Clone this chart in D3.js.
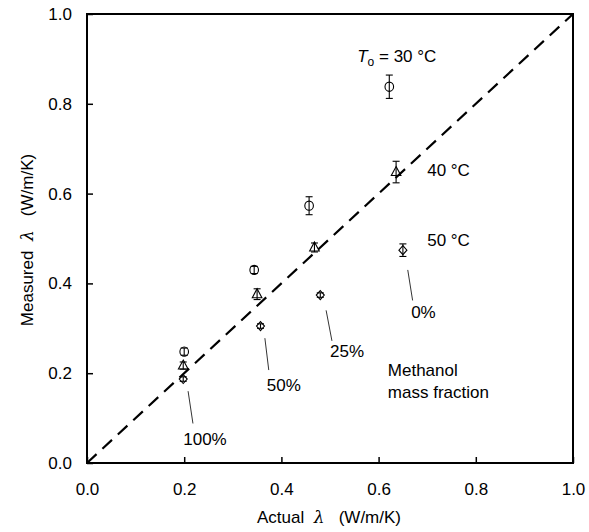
<!DOCTYPE html>
<html><head><meta charset="utf-8">
<script src="https://cdn.jsdelivr.net/npm/d3@7"></script>
<style>body{margin:0;background:#fff;} text{font-family:"Liberation Sans",Arial,sans-serif;}</style>
</head><body><svg id="c" width="589" height="532"></svg>
<script>
// Data
const circles30 = [
  {x:0.200, y:0.248, e:0.008},
  {x:0.344, y:0.430, e:0.008},
  {x:0.457, y:0.573, e:0.020},
  {x:0.622, y:0.838, e:0.026}
];
const triangles40 = [
  {x:0.198, y:0.217, e:0.008},
  {x:0.350, y:0.376, e:0.012},
  {x:0.468, y:0.480, e:0.010},
  {x:0.636, y:0.648, e:0.024}
];
const diamonds50 = [
  {x:0.198, y:0.187, e:0.005},
  {x:0.357, y:0.305, e:0.005},
  {x:0.480, y:0.374, e:0.005},
  {x:0.650, y:0.474, e:0.014}
];
const tickValues = [0, 0.2, 0.4, 0.6, 0.8, 1.0];
const fractionLabels = [
  {t:"0%",   x:0.667, y:0.323, lx1:0.660, ly1:0.430, lx2:0.670, ly2:0.362},
  {t:"25%",  x:0.500, y:0.236, lx1:0.492, ly1:0.340, lx2:0.504, ly2:0.272},
  {t:"50%",  x:0.370, y:0.160, lx1:0.366, ly1:0.278, lx2:0.374, ly2:0.207},
  {t:"100%", x:0.198, y:0.040, lx1:0.208, ly1:0.160, lx2:0.218, ly2:0.088}
];
const tempLabels = [
  {t:"40 °C", x:0.700, y:0.639},
  {t:"50 °C", x:0.700, y:0.483}
];

const svg = d3.select("#c");
const L=87, R=573, T=14, B=463;
const FS=17;
const x = d3.scaleLinear().domain([0,1]).range([L,R]);
const y = d3.scaleLinear().domain([0,1]).range([B,T]);

// axes
const fmt = d3.format(".1f");
const gx = svg.append("g").attr("transform",`translate(0,${B})`)
  .call(d3.axisBottom(x).tickValues(tickValues).tickFormat(fmt).tickSizeInner(-6).tickSizeOuter(0).tickPadding(20));
const gy = svg.append("g").attr("transform",`translate(${L},0)`)
  .call(d3.axisLeft(y).tickValues(tickValues).tickFormat(fmt).tickSizeInner(-6).tickSizeOuter(0).tickPadding(15));
[gx,gy].forEach(g=>{
  g.selectAll("text").attr("font-size",FS).attr("fill","#000").style("font-family","'Liberation Sans',Arial,sans-serif");
  g.selectAll("line").attr("stroke","#000").attr("stroke-width",1.5);
  g.select(".domain").remove();
});
svg.append("rect").attr("x",L).attr("y",T).attr("width",R-L).attr("height",B-T)
  .attr("fill","none").attr("stroke","#000").attr("stroke-width",2);

// diagonal
svg.append("line").attr("x1",x(0)).attr("y1",y(0)).attr("x2",x(1)).attr("y2",y(1))
  .attr("stroke","#000").attr("stroke-width",2.2).attr("stroke-dasharray","13,8");

// error bars + markers
function errbars(data){
  const g = svg.append("g").attr("stroke","#000").attr("stroke-width",1.1);
  data.forEach(d=>{
    g.append("line").attr("x1",x(d.x)).attr("x2",x(d.x)).attr("y1",y(d.y-d.e)).attr("y2",y(d.y+d.e));
    [d.y-d.e,d.y+d.e].forEach(v=>g.append("line").attr("x1",x(d.x)-3.5).attr("x2",x(d.x)+3.5).attr("y1",y(v)).attr("y2",y(v)));
  });
}
errbars(circles30); errbars(triangles40); errbars(diamonds50);

svg.append("g").selectAll("ellipse").data(circles30).join("ellipse")
  .attr("cx",d=>x(d.x)).attr("cy",d=>y(d.y)).attr("rx",4.3).attr("ry",4.6)
  .attr("fill","none").attr("stroke","#000").attr("stroke-width",1.1);
svg.append("g").selectAll("path").data(triangles40).join("path")
  .attr("d",d=>{const cx=x(d.x),cy=y(d.y);return `M${cx},${cy-5.5}L${cx+4.8},${cy+3.5}L${cx-4.8},${cy+3.5}Z`;})
  .attr("fill","none").attr("stroke","#000").attr("stroke-width",1.1);
svg.append("g").selectAll("path").data(diamonds50).join("path")
  .attr("d",d=>{const cx=x(d.x),cy=y(d.y);return `M${cx},${cy-4.5}L${cx+4},${cy}L${cx},${cy+4.5}L${cx-4},${cy}Z`;})
  .attr("fill","none").attr("stroke","#000").attr("stroke-width",1.1);

// labels
const t0 = svg.append("text").attr("x",x(0.556)).attr("y",y(0.893)).attr("font-size",FS);
t0.append("tspan").attr("font-style","italic").text("T");
t0.append("tspan").attr("font-size",12).attr("dy",4).text("o");
t0.append("tspan").attr("dy",-4).text(" = 30 °C");

svg.append("g").selectAll("text").data(tempLabels).join("text")
  .attr("x",d=>x(d.x)).attr("y",d=>y(d.y)).attr("font-size",FS).text(d=>d.t);

svg.append("g").selectAll("line").data(fractionLabels).join("line")
  .attr("x1",d=>x(d.lx1)).attr("y1",d=>y(d.ly1)).attr("x2",d=>x(d.lx2)).attr("y2",d=>y(d.ly2))
  .attr("stroke","#000").attr("stroke-width",0.8);
svg.append("g").selectAll("text").data(fractionLabels).join("text")
  .attr("x",d=>x(d.x)).attr("y",d=>y(d.y)).attr("font-size",FS).text(d=>d.t);

svg.append("text").attr("x",x(0.619)).attr("y",y(0.194)).attr("font-size",FS).text("Methanol");
svg.append("text").attr("x",x(0.619)).attr("y",y(0.145)).attr("font-size",FS).text("mass fraction");

// axis titles
const xt = svg.append("text").attr("x",329).attr("y",523).attr("text-anchor","middle").attr("font-size",FS).attr("xml:space","preserve");
xt.append("tspan").text("Actual  ");
xt.append("tspan").attr("font-style","italic").style("font-family","'DejaVu Serif',serif").text("λ");
xt.append("tspan").text("   (W/m/K)");
const yt = svg.append("text").attr("transform","translate(33,240) rotate(-90)").attr("text-anchor","middle").attr("font-size",FS).attr("xml:space","preserve");
yt.append("tspan").text("Measured  ");
yt.append("tspan").attr("font-style","italic").style("font-family","'DejaVu Serif',serif").text("λ");
yt.append("tspan").text("   (W/m/K)");
</script></body></html>
